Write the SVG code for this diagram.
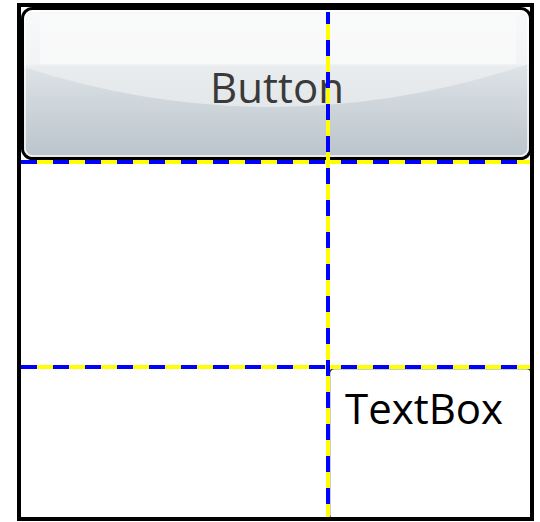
<svg xmlns="http://www.w3.org/2000/svg" width="540" height="522" viewBox="0 0 540 522">
  <style>
    .lbl { font-family: "Open Sans", "DejaVu Sans", sans-serif; font-size: 42px; }
    .gy { stroke: #ffff00; stroke-width: 4; fill: none; }
    .gb { stroke: #0000ff; stroke-width: 4; fill: none; stroke-dasharray: 16 16; }
  </style>
  <defs>
    <linearGradient id="btnTop" x1="0" y1="0" x2="0" y2="1">
      <stop offset="0" stop-color="#f8f9fa"/>
      <stop offset="0.37" stop-color="#f1f3f4"/>
      <stop offset="0.39" stop-color="#e9ecee"/>
      <stop offset="1" stop-color="#dde2e5"/>
    </linearGradient>
    <linearGradient id="btnLow" gradientUnits="userSpaceOnUse" x1="0" y1="62" x2="0" y2="158">
      <stop offset="0" stop-color="#dfe4e7"/>
      <stop offset="0.4" stop-color="#d0d7dc"/>
      <stop offset="1" stop-color="#bac4cb"/>
    </linearGradient>
    <clipPath id="btnClip">
      <rect x="24" y="10" width="505" height="147" rx="9"/>
    </clipPath>
  </defs>

  <rect x="0" y="0" width="540" height="522" fill="#ffffff"/>

  <g id="button">
    <rect x="22.5" y="8.5" width="508" height="150" rx="10" fill="url(#btnTop)" stroke="#000000" stroke-width="3"/>
    <g clip-path="url(#btnClip)">
      <path d="M20,66 Q277,150 535,62 L535,160 L20,160 Z" fill="url(#btnLow)"/>
      <rect x="40" y="14" width="476" height="50" fill="#fbfcfc" opacity="0.6"/>
    </g>
    <rect x="25" y="11" width="503" height="145" rx="8" fill="none" stroke="#ffffff" stroke-width="1.5" opacity="0.85"/>
    <text class="lbl" x="277" y="103" text-anchor="middle" fill="#3a3a3a">Button</text>
  </g>

  <g id="textbox">
    <rect x="329.5" y="368.5" width="202" height="151" rx="5" fill="#ffffff" stroke="#2a4050" stroke-width="1.5"/>
    <text class="lbl" x="345" y="424" fill="#000000">TextBox</text>
  </g>

  <g id="connectors">
    <line class="gy" x1="21" y1="162" x2="530" y2="162"/>
    <line class="gy" x1="21" y1="367" x2="530" y2="367"/>
    <line class="gy" x1="328" y1="12" x2="328" y2="519"/>
    <line class="gb" x1="21" y1="162" x2="530" y2="162"/>
    <line class="gb" x1="21" y1="367" x2="530" y2="367"/>
    <line class="gb" x1="328" y1="12" x2="328" y2="519" stroke-dashoffset="4"/>
  </g>

  <g id="frame">
    <rect x="19" y="5" width="513" height="514" fill="none" stroke="#000000" stroke-width="4"/>
  </g>
</svg>
